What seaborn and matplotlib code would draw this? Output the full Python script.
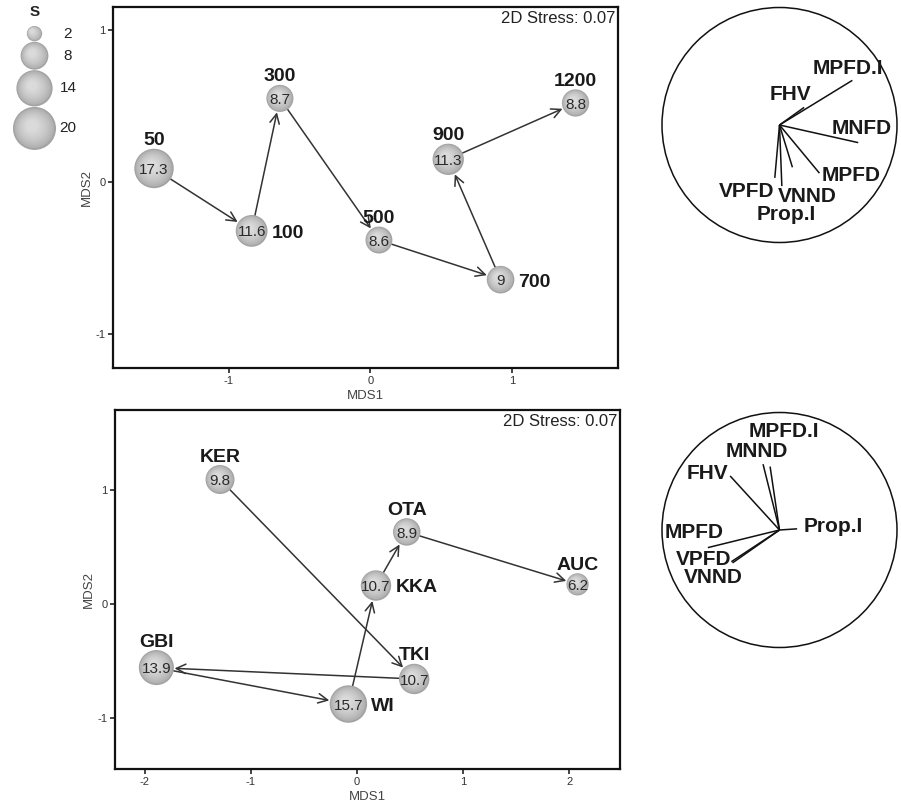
import matplotlib
matplotlib.use("Agg")
import matplotlib.pyplot as plt
from matplotlib.patches import Circle
from matplotlib.transforms import ScaledTranslation
from matplotlib.colors import to_rgb
import numpy as np
import pandas as pd
import seaborn as sns

# ---- data: top panel (distance classes) ----
top_names = ["50", "100", "300", "500", "700", "900", "1200"]
top_mds1 = [-1.53, -0.84, -0.64, 0.06, 0.92, 0.55, 1.45]
top_mds2 = [0.09, -0.32, 0.55, -0.38, -0.64, 0.15, 0.52]
top_s = [17.3, 11.6, 8.7, 8.6, 9, 11.3, 8.8]
top_side = ["top", "right", "top", "top", "right", "top", "top"]

# ---- data: bottom panel (sites) ----
bot_names = ["KER", "TKI", "GBI", "WI", "KKA", "OTA", "AUC"]
bot_mds1 = [-1.29, 0.54, -1.89, -0.08, 0.18, 0.47, 2.08]
bot_mds2 = [1.09, -0.66, -0.56, -0.88, 0.16, 0.63, 0.17]
bot_s = [9.8, 10.7, 13.9, 15.7, 10.7, 8.9, 6.2]
bot_side = ["top", "top", "top", "right", "right", "top", "top"]

# ---- vector overlays (correlation circles) ----
vec_top_names = ["MPFD.I", "FHV", "MNFD", "MPFD", "VNND", "VPFD", "Prop.I"]
vec_top_x = [0.62, 0.21, 0.67, 0.34, 0.11, -0.04, 0.02]
vec_top_y = [0.38, 0.15, -0.15, -0.41, -0.36, -0.45, -0.52]
lab_top_x = [0.58, 0.09, 0.70, 0.61, 0.24, -0.28, 0.06]
lab_top_y = [0.48, 0.26, -0.03, -0.43, -0.61, -0.57, -0.765]

vec_bot_names = ["Prop.I", "MPFD.I", "MNND", "FHV", "MPFD", "VPFD", "VNND"]
vec_bot_x = [0.15, -0.08, -0.14, -0.42, -0.61, -0.41, -0.40]
vec_bot_y = [0.01, 0.54, 0.56, 0.46, -0.15, -0.27, -0.28]
lab_bot_x = [0.46, 0.04, -0.19, -0.61, -0.73, -0.65, -0.56]
lab_bot_y = [0.03, 0.84, 0.67, 0.48, -0.02, -0.25, -0.40]

legend_s = [2, 8, 14, 20]
stress = "2D Stress: 0.07"

sns.set_style("white")
plt.rcParams["font.family"] = ["Liberation Sans", "DejaVu Sans"]
plt.rcParams["axes.unicode_minus"] = False

W, H = 901, 805
fig = plt.figure(figsize=(W / 100, H / 100), dpi=100)

SNORM = (2, 20)
SIZES = (48, 940)
LEG_SIZES = (122, 960)


def s_area(v, sizes=SIZES):
    return sizes[0] + (v - SNORM[0]) / (SNORM[1] - SNORM[0]) * (sizes[1] - sizes[0])


def shaded_bubbles(ax, df, sizes):
    # fake radial gradient: stacked shrinking scatter layers
    dark = np.array(to_rgb("#a3a3a3"))
    light = np.array(to_rgb("#dadada"))
    n = 10
    for k in range(n):
        t = k / (n - 1)
        f = 1.0 - 0.72 * t
        col = dark + (light - dark) * (t ** 0.6)
        sns.scatterplot(data=df, x="MDS1", y="MDS2", size="S", sizes=(sizes[0] * f * f, sizes[1] * f * f),
                        size_norm=SNORM, color=col, linewidth=0, legend=False, ax=ax, zorder=3 + k * 0.01)
        off = ScaledTranslation(-1.8 * t / 72, 1.8 * t / 72, fig.dpi_scale_trans)
        ax.collections[-1].set_offset_transform(ax.transData + off)


def mds_panel(rect, names, xs, ys, ss, sides, xlim, ylim, xticks, yticks):
    ax = fig.add_axes(rect)
    df = pd.DataFrame({"name": names, "MDS1": xs, "MDS2": ys, "S": ss})
    shaded_bubbles(ax, df, SIZES)
    # trajectory arrows
    for i in range(len(df) - 1):
        r0 = np.sqrt(s_area(ss[i])) / 2
        r1 = np.sqrt(s_area(ss[i + 1])) / 2
        ax.annotate("", xy=(xs[i + 1], ys[i + 1]), xytext=(xs[i], ys[i]),
                    arrowprops=dict(arrowstyle="->", color="#333333", lw=1.1,
                                    shrinkA=r0, shrinkB=r1 + 0.5, mutation_scale=17),
                    zorder=2)
    for i, row in df.iterrows():
        r = np.sqrt(s_area(row["S"])) / 2
        ax.annotate(f"{row['S']:g}", (row["MDS1"], row["MDS2"]), xytext=(0, -4.0),
                    textcoords="offset points", ha="center", va="baseline",
                    fontsize=11, color="#2a2a2a", zorder=5)
        if sides[i] == "top":
            ax.annotate(row["name"], (row["MDS1"], row["MDS2"]), xytext=(0, r + 2.5),
                        textcoords="offset points", ha="center", va="baseline",
                        fontsize=14, fontweight="bold", color="#1a1a1a", zorder=5)
        else:
            ax.annotate(row["name"], (row["MDS1"], row["MDS2"]), xytext=(r + 3, -5),
                        textcoords="offset points", ha="left", va="baseline",
                        fontsize=14, fontweight="bold", color="#1a1a1a", zorder=5)
    ax.text(0.995, 0.988, stress, transform=ax.transAxes, ha="right", va="top",
            fontsize=12, color="#222222")
    ax.set_xlim(xlim)
    ax.set_ylim(ylim)
    ax.set_xticks(xticks)
    ax.set_yticks(yticks)
    ax.set_xlabel("MDS1", fontsize=9.5, color="#444444", labelpad=3)
    ax.set_ylabel("MDS2", fontsize=9.5, color="#444444", labelpad=2)
    ax.tick_params(axis="both", direction="out", length=3.5, width=1.2, color="#222222",
                   labelsize=8, labelcolor="#333333", bottom=True, left=True, pad=2)
    for sp in ax.spines.values():
        sp.set_linewidth(1.6)
        sp.set_color("#111111")
    return ax


def vector_circle(cy_px, names, vx, vy, lx, ly):
    R = 117.5
    cx_px = 779.5
    half = 1.1 * R
    ax = fig.add_axes([(cx_px - half) / W, (H - cy_px - half) / H, 2 * half / W, 2 * half / H])
    ax.set_xlim(-1.1, 1.1)
    ax.set_ylim(-1.1, 1.1)
    ax.set_aspect("equal")
    ax.axis("off")
    ax.add_patch(Circle((0, 0), 1, fill=False, lw=1.1, color="#111111"))
    for i in range(len(names)):
        ax.plot([0, vx[i]], [0, vy[i]], color="#111111", lw=1.1, solid_capstyle="butt")
        ax.text(lx[i], ly[i], names[i], ha="center", va="center", fontsize=15,
                fontweight="bold", color="#1a1a1a")
    return ax


mds_panel([113 / W, (H - 368) / H, 505 / W, 361 / H], top_names, top_mds1, top_mds2, top_s,
          top_side, (-1.82, 1.75), (-1.22, 1.15), [-1, 0, 1], [-1, 0, 1])
mds_panel([115 / W, (H - 769) / H, 505 / W, 359 / H], bot_names, bot_mds1, bot_mds2, bot_s,
          bot_side, (-2.28, 2.48), (-1.45, 1.70), [-2, -1, 0, 1, 2], [-1, 0, 1])

vector_circle(125, vec_top_names, vec_top_x, vec_top_y, lab_top_x, lab_top_y)
vector_circle(530, vec_bot_names, vec_bot_x, vec_bot_y, lab_bot_x, lab_bot_y)

# ---- size legend (pixel coordinate overlay) ----
lax = fig.add_axes([0, 0, 1, 1], zorder=-1)
lax.set_xlim(0, W)
lax.set_ylim(H, 0)
lax.axis("off")
radii = [np.sqrt(s_area(v, LEG_SIZES)) / 2 / 0.72 for v in legend_s]
ycent = []
y = 26.0
for r in radii:
    ycent.append(y + r)
    y += 2 * r + 0.5
leg_df = pd.DataFrame({"MDS1": [34.5] * len(legend_s), "MDS2": ycent, "S": legend_s})
shaded_bubbles(lax, leg_df, LEG_SIZES)
for v, yc in zip(legend_s, ycent):
    lax.text(68, yc, str(v), ha="center", va="center", fontsize=11, color="#222222")
lax.text(35, 12, "S", ha="center", va="center", fontsize=11, fontweight="bold", color="#222222")

fig.savefig("out.png", dpi=100)
